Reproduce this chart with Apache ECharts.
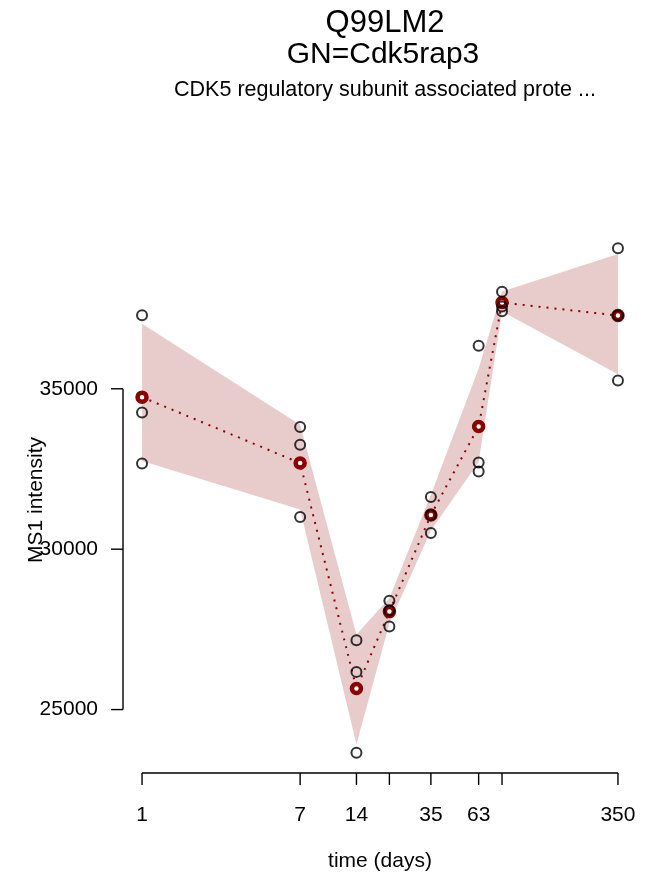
<!DOCTYPE html>
<html>
<head>
<meta charset="utf-8">
<script src="https://cdn.jsdelivr.net/npm/echarts@6/dist/echarts.min.js"></script>
<style>html,body{margin:0;padding:0;background:#fff}#c{width:655px;height:879px}</style>
</head>
<body>
<div id="c"></div>
<script>
// ---- data ----
var days = [1, 7, 14, 21, 35, 63, 84, 350];
var rep1 = [37296, 33807, 27160, 28396, 31626, 36339, 38022, 39383];
var rep2 = [34262, 33256, 26175, 28085, 31066, 32704, 37564, 37283];
var rep3 = [32673, 31003, 23652, 27586, 30505, 32424, 37420, 35259];
var means = [34740, 32684, 25655, 28054, 31066, 33826, 37688, 37283];
var bandHigh = [37025, 33880, 27340, 28480, 31700, 35630, 38030, 39200];
var bandLow = [32750, 31240, 23910, 27680, 30580, 32720, 37410, 35450];
var xTicks = [1, 7, 14, 21, 35, 63, 84, 350];
var xTickLabels = ['1', '7', '14', '', '35', '63', '', '350'];
var yTicks = [25000, 30000, 35000];
var yTickLabels = ['25000', '30000', '35000'];

var FONT = 'Liberation Sans, Arial, sans-serif';
var RED = '#8B0000';

var rawPts = [];
[rep1, rep2, rep3].forEach(function (r) {
  r.forEach(function (v, i) { rawPts.push([days[i], v]); });
});
var meanPts = days.map(function (d, i) { return [d, means[i]]; });

// axis ranges (R style 4% padding)
var allVals = rep1.concat(rep2, rep3);
var ymin = Math.min.apply(null, allVals), ymax = Math.max.apply(null, allVals);
var ypad = (ymax - ymin) * 0.04;
var lx0 = Math.log10(days[0]), lx1 = Math.log10(days[days.length - 1]);
var xpad = (lx1 - lx0) * 0.04;

var chart = echarts.init(document.getElementById('c'), null, { renderer: 'canvas' });

function bandRender(params, api) {
  if (params.dataIndex !== 0) return null;
  var pts = [];
  for (var i = 0; i < days.length; i++) pts.push(api.coord([days[i], bandHigh[i]]));
  for (var j = days.length - 1; j >= 0; j--) pts.push(api.coord([days[j], bandLow[j]]));
  return { type: 'polygon', shape: { points: pts }, style: { fill: 'rgba(139,0,0,0.2)', stroke: null } };
}

function axesRender(params, api) {
  if (params.dataIndex !== 0) return null;
  var children = [];
  var lw = 1.4, tl = 12;
  var yAxisVal = Math.pow(10, lx0 - xpad);
  var xAxisVal = ymin - ypad;
  // x axis
  var xa = api.coord([xTicks[0], xAxisVal]);
  var xb = api.coord([xTicks[xTicks.length - 1], xAxisVal]);
  children.push({ type: 'line', shape: { x1: xa[0], y1: xa[1], x2: xb[0], y2: xb[1] }, style: { stroke: '#000', lineWidth: lw } });
  xTicks.forEach(function (t, i) {
    var p = api.coord([t, xAxisVal]);
    children.push({ type: 'line', shape: { x1: p[0], y1: p[1], x2: p[0], y2: p[1] + tl }, style: { stroke: '#000', lineWidth: lw } });
    if (xTickLabels[i]) children.push({ type: 'text', x: p[0], y: p[1] + 42, style: { text: xTickLabels[i], font: '21px ' + FONT, fill: '#000', align: 'center', verticalAlign: 'middle' } });
  });
  // y axis
  var ya = api.coord([yAxisVal, yTicks[0]]);
  var yb = api.coord([yAxisVal, yTicks[yTicks.length - 1]]);
  children.push({ type: 'line', shape: { x1: ya[0], y1: ya[1], x2: yb[0], y2: yb[1] }, style: { stroke: '#000', lineWidth: lw } });
  yTicks.forEach(function (t, i) {
    var p = api.coord([yAxisVal, t]);
    children.push({ type: 'line', shape: { x1: p[0], y1: p[1], x2: p[0] - tl, y2: p[1] }, style: { stroke: '#000', lineWidth: lw } });
    children.push({ type: 'text', x: p[0] - 25, y: p[1], style: { text: yTickLabels[i], font: '21px ' + FONT, fill: '#000', align: 'right', verticalAlign: 'middle' } });
  });
  return { type: 'group', children: children };
}

var option = {
  animation: false,
  backgroundColor: '#fff',
  title: [
    { text: 'Q99LM2', left: 380, top: 3, textAlign: 'center', textStyle: { fontFamily: FONT, fontSize: 31, fontWeight: 'normal', color: '#000' } },
    { text: 'GN=Cdk5rap3', left: 378, top: 35, textAlign: 'center', textStyle: { fontFamily: FONT, fontSize: 30, fontWeight: 'normal', color: '#000' } },
    { text: 'CDK5 regulatory subunit associated prote ...', left: 380, top: 74, textAlign: 'center', textStyle: { fontFamily: FONT, fontSize: 21.5, fontWeight: 'normal', color: '#000' } }
  ],
  graphic: [
    { type: 'text', x: 380, y: 861, style: { text: 'time (days)', font: '21px ' + FONT, fill: '#000', align: 'center', verticalAlign: 'middle' } },
    { type: 'text', x: 36, y: 500, rotation: Math.PI / 2, style: { text: 'MS1 intensity', font: '21px ' + FONT, fill: '#000', align: 'center', verticalAlign: 'middle' } }
  ],
  grid: { left: 123, right: 18, top: 228, bottom: 106, containLabel: false },
  xAxis: {
    type: 'log', logBase: 10,
    min: Math.pow(10, lx0 - xpad), max: Math.pow(10, lx1 + xpad),
    axisLine: { show: false }, axisTick: { show: false }, axisLabel: { show: false }, splitLine: { show: false }
  },
  yAxis: {
    type: 'value', min: ymin - ypad, max: ymax + ypad,
    axisLine: { show: false }, axisTick: { show: false }, axisLabel: { show: false }, splitLine: { show: false }
  },
  series: [
    { type: 'custom', renderItem: bandRender, data: meanPts, z: 1, clip: false, silent: true },
    { type: 'custom', renderItem: axesRender, data: meanPts, z: 1, clip: false, silent: true },
    {
      type: 'line', data: meanPts, z: 3, symbol: 'circle', symbolSize: 9,
      lineStyle: { color: RED, width: 2, type: [2, 6] },
      itemStyle: { color: '#fff', borderColor: RED, borderWidth: 4.5 }
    },
    {
      type: 'scatter', data: rawPts, z: 4, symbol: 'circle', symbolSize: 10,
      itemStyle: { color: 'rgba(0,0,0,0)', borderColor: '#000', borderWidth: 2 }
    }
  ]
};
chart.setOption(option);
</script>
</body>
</html>
